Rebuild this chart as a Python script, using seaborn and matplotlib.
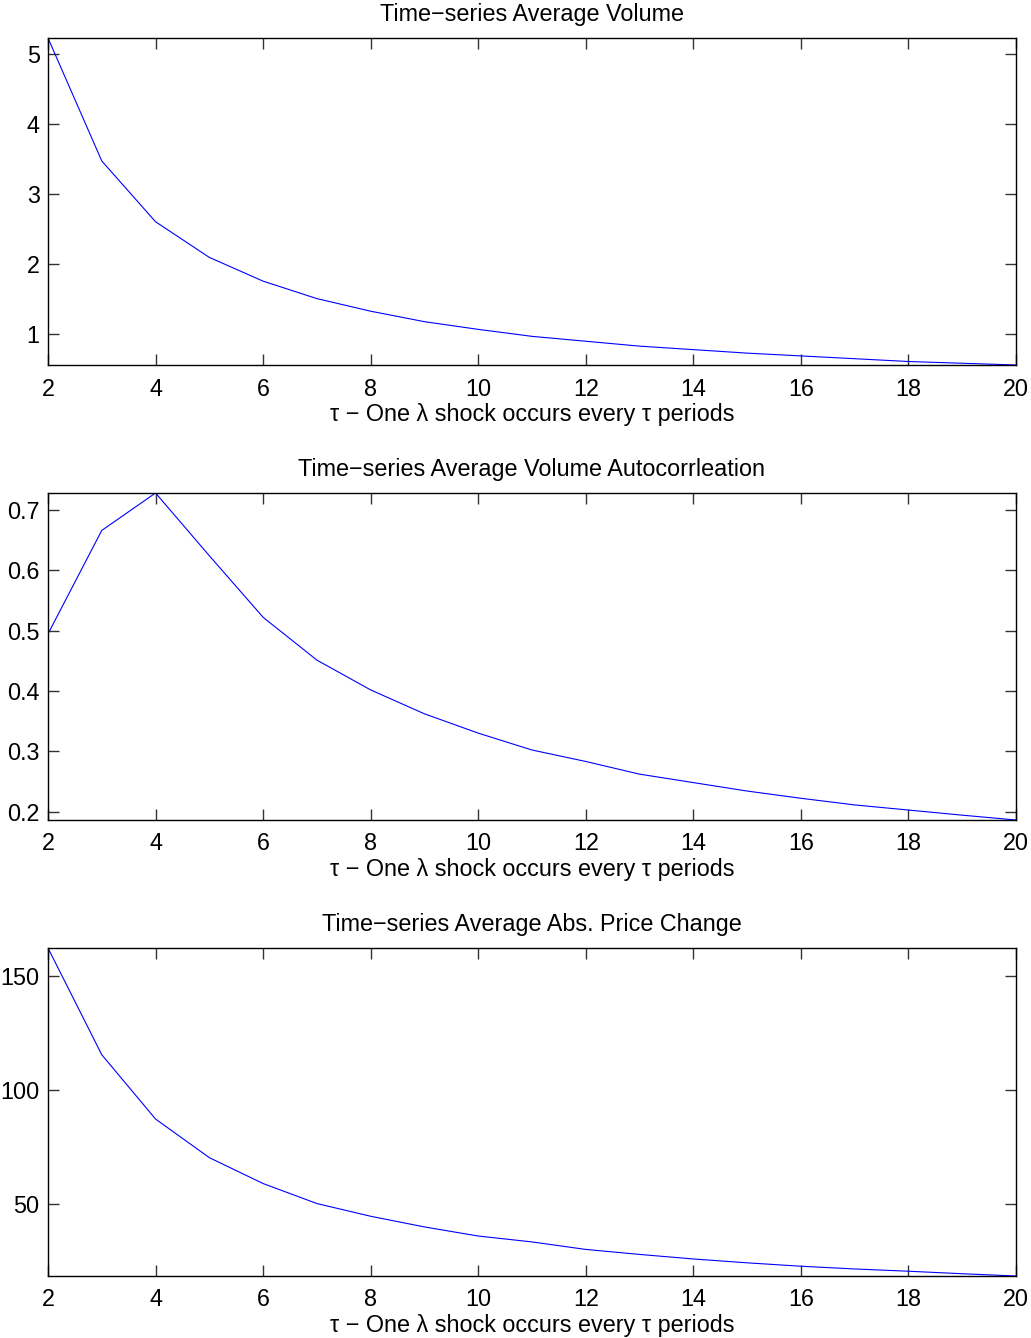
import numpy as np
import pandas as pd
import matplotlib
matplotlib.use("Agg")
import matplotlib.pyplot as plt
import seaborn as sns

tau = list(range(2, 21))
avg_volume = [5.23, 3.47, 2.60, 2.09, 1.75, 1.50, 1.32, 1.17, 1.06, 0.96,
              0.89, 0.82, 0.77, 0.72, 0.68, 0.64, 0.60, 0.575, 0.55]
vol_autocorr = [0.4945, 0.666, 0.728, 0.624, 0.522, 0.451, 0.4016, 0.362, 0.330, 0.302,
                0.283, 0.262, 0.248, 0.234, 0.222, 0.211, 0.2025, 0.194, 0.186]
abs_price_change = [162.5, 115.5, 87.2, 70.2, 58.8, 50.0, 44.4, 39.7, 35.7, 33.1,
                    29.8, 27.6, 25.6, 23.9, 22.4, 21.2, 20.2, 19.1, 18.1]

titles = ["Time\u2212series Average Volume",
          "Time\u2212series Average Volume Autocorrleation",
          "Time\u2212series Average Abs. Price Change"]
xlabel = "\u03c4 \u2212 One \u03bb shock occurs every \u03c4 periods"
xticks = list(range(2, 21, 2))
yticks_list = [[1, 2, 3, 4, 5],
               [0.2, 0.3, 0.4, 0.5, 0.6, 0.7],
               [50, 100, 150]]
ytick_labels = [["1", "2", "3", "4", "5"],
                ["0.2", "0.3", "0.4", "0.5", "0.6", "0.7"],
                ["50", "100", "150"]]

sns.set_style("ticks")
plt.rcParams['font.family'] = ['Liberation Sans', 'DejaVu Sans']
plt.rcParams['text.color'] = 'black'
plt.rcParams['axes.labelcolor'] = 'black'
plt.rcParams['axes.titlecolor'] = 'black'
plt.rcParams['xtick.labelcolor'] = 'black'
plt.rcParams['ytick.labelcolor'] = 'black'
FS = 16.8

fig = plt.figure(figsize=(10.31, 13.38), dpi=100)
W, H = 1031, 1338
left, right = 48, 1016
tops = [38, 493, 948]
bottoms = [365, 820, 1276]

series = [avg_volume, vol_autocorr, abs_price_change]
for i in range(3):
    ax = fig.add_axes([left / W, 1 - bottoms[i] / H, (right - left) / W, (bottoms[i] - tops[i]) / H])
    df = pd.DataFrame({"tau": tau, "val": series[i]})
    sns.lineplot(data=df, x="tau", y="val", ax=ax, color=(0, 0, 1), linewidth=0.8)
    ax.set_xlim(2, 20)
    ax.set_ylim(min(series[i]), max(series[i]))
    ax.set_xticks(xticks)
    ax.set_xticklabels([str(t) for t in xticks])
    ax.set_yticks(yticks_list[i])
    ax.set_yticklabels(ytick_labels[i])
    ax.tick_params(direction="in", length=8, width=1.0, top=True, right=True,
                   colors="#333333", labelcolor="black", labelsize=FS)
    ax.tick_params(axis="x", pad=9)
    ax.tick_params(axis="y", pad=6)
    for s in ax.spines.values():
        s.set_visible(True)
        s.set_color("black")
        s.set_linewidth(1.0)
    ax.set_title(titles[i], fontsize=FS, pad=12, color="black")
    ax.set_xlabel(xlabel, fontsize=FS, labelpad=2, color="black")
    ax.set_ylabel("")

fig.savefig("out.png", dpi=100)
